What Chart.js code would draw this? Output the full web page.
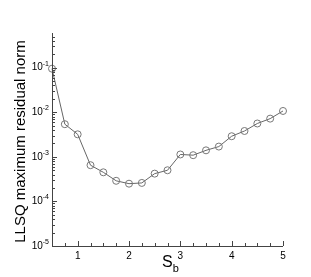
<!DOCTYPE html>
<html>
<head>
<meta charset="utf-8">
<script src="https://cdn.jsdelivr.net/npm/chart.js@4"></script>
<style>
  html, body { margin: 0; padding: 0; background: #fff; }
  #wrap { width: 311px; height: 277px; position: relative; }
</style>
</head>
<body>
<div id="wrap"><canvas id="residualChart"></canvas></div>
<script>
// S_b values and LLSQ max residual norm
const sbValues = [0.5, 0.75, 1.0, 1.25, 1.5, 1.75, 2.0, 2.25, 2.5, 2.75, 3.0, 3.25, 3.5, 3.75, 4.0, 4.25, 4.5, 4.75, 5.0];
const residualNorm = [0.095, 5.4e-3, 3.2e-3, 6.5e-4, 4.5e-4, 2.9e-4, 2.5e-4, 2.6e-4, 4.2e-4, 5.0e-4, 1.13e-3, 1.09e-3, 1.4e-3, 1.7e-3, 2.9e-3, 3.8e-3, 5.6e-3, 7.2e-3, 1.07e-2];
const xTicks = [1, 2, 3, 4, 5];
const yExponents = [-1, -2, -3, -4, -5];

const xMin = 0.5, xMax = 5;
const yMin = 1e-5, yMax = 0.6;

const FONT = '"Liberation Sans", Arial, sans-serif';
const AXIS_COLOR = '#444';

// draws the axes with inward ticks and the labels (superscripts / subscript)
const axesPlugin = {
    id: 'axesPlugin',
    afterDraw(chart) {
        const { ctx, chartArea: a, scales } = chart;
        const xs = scales.x, ys = scales.y;
        ctx.save();
        ctx.strokeStyle = AXIS_COLOR;
        ctx.lineWidth = 1;

        ctx.beginPath();
        ctx.moveTo(a.left + 0.5, a.top);
        ctx.lineTo(a.left + 0.5, a.bottom + 0.5);
        ctx.lineTo(a.right, a.bottom + 0.5);
        ctx.stroke();

        // x ticks, major every 1 and minor every 0.25
        ctx.beginPath();
        for (let v = 0.5; v <= xMax + 1e-9; v += 0.25) {
            const px = Math.round(xs.getPixelForValue(v)) + 0.5;
            const major = Math.abs(v - Math.round(v)) < 1e-9;
            ctx.moveTo(px, a.bottom);
            ctx.lineTo(px, a.bottom - (major ? 5 : 3));
        }
        // y ticks, decades plus 2..9 minor
        for (let e = -5; e <= 0; e++) {
            for (let m = 1; m <= 9; m++) {
                const v = m * Math.pow(10, e);
                if (v < yMin || v > yMax) continue;
                const py = Math.round(ys.getPixelForValue(v)) + 0.5;
                ctx.moveTo(a.left, py);
                ctx.lineTo(a.left + (m === 1 ? 5 : 3), py);
            }
        }
        ctx.stroke();

        ctx.fillStyle = '#000';
        ctx.font = '10px ' + FONT;
        ctx.textAlign = 'center';
        ctx.textBaseline = 'top';
        xTicks.forEach(t => {
            ctx.fillText(String(t), xs.getPixelForValue(t), a.bottom + 5);
        });

        yExponents.forEach(e => {
            const py = ys.getPixelForValue(Math.pow(10, e));
            ctx.font = '7px ' + FONT;
            const sup = '-' + Math.abs(e);
            const supW = ctx.measureText(sup).width;
            ctx.textAlign = 'right';
            ctx.textBaseline = 'middle';
            ctx.fillText(sup, a.left - 3, py - 4);
            ctx.font = '10px ' + FONT;
            ctx.fillText('10', a.left - 3 - supW, py);
        });

        // y title
        ctx.font = '15px ' + FONT;
        ctx.save();
        ctx.translate(21, (a.top + a.bottom) / 2 + 2);
        ctx.rotate(-Math.PI / 2);
        ctx.textAlign = 'center';
        ctx.textBaseline = 'middle';
        ctx.fillText('LLSQ maximum residual norm', 0, 0);
        ctx.restore();

        // x title S_b
        ctx.font = '16px ' + FONT;
        ctx.textAlign = 'left';
        ctx.textBaseline = 'alphabetic';
        ctx.fillText('S', 162, 267);
        const sW = ctx.measureText('S').width;
        ctx.font = '11px ' + FONT;
        ctx.fillText('b', 162 + sW, 272);

        ctx.restore();
    }
};

new Chart(document.getElementById('residualChart'), {
    type: 'line',
    data: {
        datasets: [{
            data: sbValues.map((x, i) => ({ x: x, y: residualNorm[i] })),
            borderColor: '#666',
            borderWidth: 1,
            pointRadius: 3.5,
            pointBorderColor: '#777',
            pointBackgroundColor: 'rgba(0,0,0,0)',
            pointBorderWidth: 1,
            tension: 0,
            clip: false
        }]
    },
    options: {
        responsive: true,
        maintainAspectRatio: false,
        animation: false,
        layout: { padding: { left: 52, top: 33, right: 28, bottom: 31 } },
        plugins: { legend: { display: false }, tooltip: { enabled: false } },
        scales: {
            x: { type: 'linear', min: xMin, max: xMax, display: false },
            y: { type: 'logarithmic', min: yMin, max: yMax, display: false }
        }
    },
    plugins: [axesPlugin]
});
</script>
</body>
</html>
